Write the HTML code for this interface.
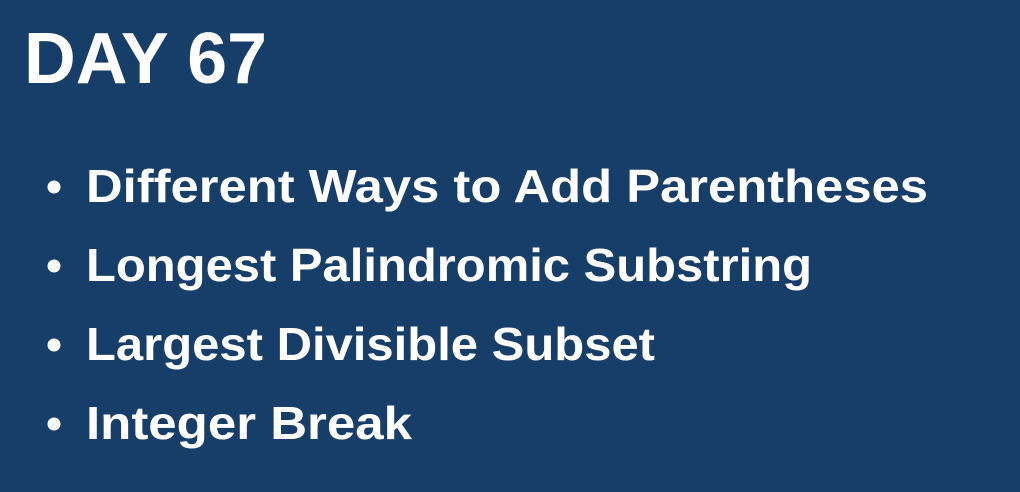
<!DOCTYPE html>
<html><head><meta charset="utf-8"><style>
html,body{margin:0;padding:0;background:#173e69;}
svg{display:block}
text{font-family:"Liberation Sans",sans-serif;font-weight:bold;fill:#fff}
</style></head><body>
<svg width="1020" height="492" viewBox="0 0 1020 492">
<rect width="1020" height="492" fill="#173e69"/>
<text x="24" y="83" font-size="72" textLength="243" lengthAdjust="spacingAndGlyphs">DAY 67</text>
<g>
<circle cx="54" cy="187" r="6.5" fill="#fff"/>
<text x="86" y="202" font-size="46" textLength="842" lengthAdjust="spacingAndGlyphs">Different Ways to Add Parentheses</text>
<circle cx="54" cy="266" r="6.5" fill="#fff"/>
<text x="86" y="281" font-size="46" textLength="726" lengthAdjust="spacingAndGlyphs">Longest Palindromic Substring</text>
<circle cx="54" cy="345" r="6.5" fill="#fff"/>
<text x="86" y="360" font-size="46" textLength="569" lengthAdjust="spacingAndGlyphs">Largest Divisible Subset</text>
<circle cx="54" cy="424" r="6.5" fill="#fff"/>
<text x="86" y="439" font-size="46" textLength="326" lengthAdjust="spacingAndGlyphs">Integer Break</text>
</g>
</svg>
</body></html>
